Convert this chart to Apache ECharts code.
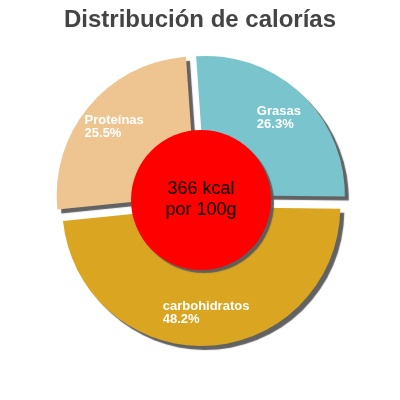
<!DOCTYPE html>
<html><head><meta charset="utf-8">
<script src="https://cdn.jsdelivr.net/npm/echarts@6/dist/echarts.min.js"></script>
<style>html,body{margin:0;padding:0;background:#fff}#c{width:400px;height:400px}</style>
</head><body><div id="c"></div>
<script>
const titleText = 'Distribución de calorías';
const categories = ['Grasas', 'carbohidratos', 'Proteínas'];
const percents = [26.3, 48.2, 25.5];
const sliceColors = ['#7AC5CD', '#DAA520', '#EEC591'];
const energyValue = 366;
const centerLines = ['366 kcal', 'por 100g'];

const C = [201, 200];
const R = 139;
const OFF = 7;
const shadow = {shadowColor: 'rgba(90,90,90,0.95)', shadowBlur: 1, shadowOffsetX: 4, shadowOffsetY: 4};

const pieData = categories.map((n, i) => ({name: n, value: percents[i], selected: true,
  itemStyle: Object.assign({color: sliceColors[i]}, shadow)}));
const labelData = categories.map((n, i) => ({name: n, value: percents[i], selected: true}));
const labelFont = {fontFamily: 'Liberation Sans', fontWeight: 'bold', fontSize: 13, lineHeight: 13, color: '#fff', align: 'left'};

const chart = echarts.init(document.getElementById('c'), null, {renderer: 'canvas'});
chart.setOption({
  animation: false,
  title: {text: titleText, left: 'center', top: 3,
    textStyle: {fontFamily: 'Liberation Sans', fontWeight: 'bold', fontSize: 24, color: '#444'}},
  series: [
    {type: 'pie', center: C, radius: [0, R], startAngle: 94, selectedMode: 'multiple', selectedOffset: OFF,
     silent: true, avoidLabelOverlap: false, label: {show: false}, labelLine: {show: false},
     emphasis: {disabled: true}, data: pieData, z: 1},
    {type: 'pie', center: C, radius: [68, R], startAngle: 94, selectedMode: 'multiple', selectedOffset: OFF,
     silent: true, avoidLabelOverlap: false,
     itemStyle: {color: 'rgba(0,0,0,0)', borderWidth: 0},
     label: {show: true, position: 'inside', formatter: p => '{t|' + p.name + '}\n{t|' + p.value + '%}',
       fontFamily: 'Liberation Sans', fontWeight: 'bold', fontSize: 13, lineHeight: 13, color: '#fff',
       rich: {t: labelFont}},
     labelLine: {show: false}, emphasis: {disabled: true}, data: labelData, z: 3},
    {type: 'pie', center: C, radius: [0, 70], silent: true,
     label: {show: true, position: 'center', formatter: () => centerLines.join('\n'),
       fontFamily: 'Liberation Sans', fontSize: 18, lineHeight: 21, color: '#000'},
     labelLine: {show: false}, emphasis: {disabled: true},
     itemStyle: {color: '#FF0000', shadowColor: 'rgba(90,90,90,0.95)', shadowBlur: 1, shadowOffsetX: 3, shadowOffsetY: 3},
     data: [{name: 'energía', value: energyValue}], z: 2}
  ]
});
</script></body></html>
